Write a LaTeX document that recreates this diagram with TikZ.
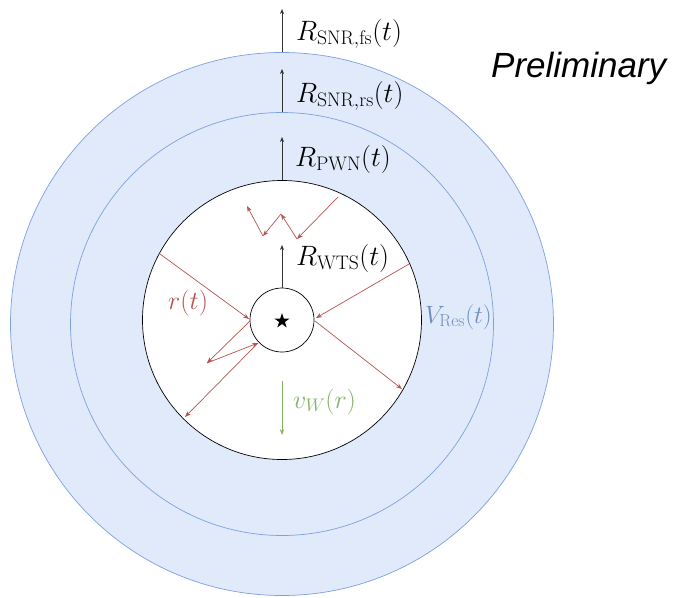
\RequirePackage{fix-cm}
\documentclass[tikz,border=0pt]{standalone}
\usepackage{fontspec}
\newfontfamily\prelimfont{Liberation Sans}
\usetikzlibrary{arrows.meta,shapes.geometric}
\definecolor{bluefill}{HTML}{E1EAFA}
\definecolor{blueline}{HTML}{7E9FE0}
\definecolor{bluetext}{HTML}{6C8EBF}
\definecolor{redline}{HTML}{B85450}
\definecolor{greenline}{HTML}{82B366}
\begin{document}
\begin{tikzpicture}[x=1pt,y=-1pt,
  ring/.style={circle,draw=blueline,fill=bluefill,line width=0.7pt,inner sep=0pt},
  bubble/.style={circle,draw=black,fill=white,line width=0.7pt,inner sep=0pt},
  growth/.style={draw=black!80,line width=0.7pt,-{Stealth[length=5pt,width=4pt]}},
  ray/.style={draw=redline,line width=0.7pt,-{Stealth[length=6pt,width=4.5pt]}},
  flow/.style={draw=greenline,line width=0.7pt,-{Stealth[length=6pt,width=4.5pt]}},
  lab/.style={anchor=base west,inner sep=0pt,font=\fontsize{26}{30}\selectfont},
  biglab/.style={anchor=base west,inner sep=0pt,font=\fontsize{28}{32}\selectfont}]
\useasboundingbox (0,0) rectangle (682,597);
% shells
\node[ring,minimum size=543pt] (fs) at (282,324) {};
\node[ring,minimum size=423pt] (rs) at (282,324) {};
\node[bubble,minimum size=279pt] (pwn) at (282,320) {};
\node[bubble,minimum size=64pt] (wts) at (282,320) {};
\node[star,star points=5,star point ratio=2.618,minimum size=16pt,fill=black,inner sep=0pt] (psr) at (282,321) {};
% growth arrows
\coordinate (fsTip) at (282,9);
\coordinate (rsTip) at (282,69);
\coordinate (pwnTip) at (282,137);
\coordinate (wtsTip) at (282,245);
\draw[growth] (fs.north) -- (fsTip);
\draw[growth] (rs.north) -- (rsTip);
\draw[growth] (pwn.north) -- (pwnTip);
\draw[growth] (wts.north) -- (wtsTip);
% labels
\node[biglab] (lfs) at (296,40) {$R_{\mathrm{SNR,fs}}(t)$};
\node[biglab] (lrs) at (296,102) {$R_{\mathrm{SNR,rs}}(t)$};
\node[biglab] (lpwn) at (295,166) {$R_{\mathrm{PWN}}(t)$};
\node[biglab] (lwts) at (296,265) {$R_{\mathrm{WTS}}(t)$};
\node[lab,text=redline] (lr) at (168,309) {$r(t)$};
\node[anchor=base west,inner sep=0pt,font=\fontsize{25}{30}\selectfont,text=bluetext] (lv) at (425,323) {$V_{\mathrm{Res}}(t)$};
\node[lab,text=greenline] (lvw) at (293,408) {$v_W(r)$};
\node[anchor=base west,inner sep=0pt,font=\prelimfont\itshape\fontsize{35}{40}\selectfont] (prelim) at (491,77) {Preliminary};
% red rays
\coordinate (a1) at (160,254);
\coordinate (a2) at (249,319);
\coordinate (b1) at (409,264);
\coordinate (b2) at (316,318);
\coordinate (c1) at (315,321);
\coordinate (c2) at (402,389);
\coordinate (d1) at (250,321);
\coordinate (d2) at (207,363);
\coordinate (d3) at (258,343);
\coordinate (d4) at (185,417);
\coordinate (z1) at (338,197);
\coordinate (z2) at (297,239);
\coordinate (z3) at (281,214);
\coordinate (z4) at (263,236);
\coordinate (z5) at (247,206);
\draw[ray] (a1) -- (a2);
\draw[ray] (b1) -- (b2);
\draw[ray] (c1) -- (c2);
\draw[ray] (d1) -- (d2);
\draw[ray] (d2) -- (d3);
\draw[ray] (d3) -- (d4);
\draw[ray] (z1) -- (z2);
\draw[ray] (z2) -- (z3);
\draw[ray] (z3) -- (z4);
\draw[ray] (z4) -- (z5);
% wind
\coordinate (w1) at (282,381);
\coordinate (w2) at (282,435);
\draw[flow] (w1) -- (w2);
\end{tikzpicture}
\end{document}
